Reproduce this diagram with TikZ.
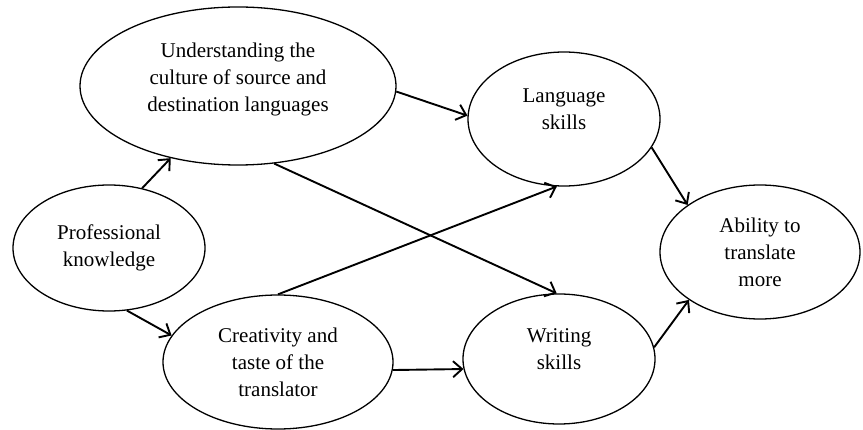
\documentclass[tikz,border=0pt]{standalone}
\usepackage{fontspec}
\setmainfont{Liberation Serif}
\usetikzlibrary{positioning,shapes.geometric,arrows.meta}

\begin{document}
\begin{tikzpicture}[x=1pt, y=-1pt,
  oval/.style={ellipse, draw=black, line width=1.3pt, inner sep=0pt, align=center, font=\fontsize{21}{27}\selectfont},
  arrow/.style={-{Straight Barb[length=9pt,width=16pt]}, line width=1.9pt}
]
  \useasboundingbox (0,0) rectangle (863,430);

  % Nodes
  \node[oval, minimum width=316pt, minimum height=158pt] (culture) at (238,86) {Understanding the\\culture of source and\\destination languages\\[-10pt]};
  \node[oval, minimum width=192pt, minimum height=126pt] (prof) at (109,248) {Professional\\knowledge};
  \node[oval, minimum width=230pt, minimum height=134pt] (creat) at (278,362) {Creativity and\\taste of the\\translator};
  \node[oval, minimum width=192pt, minimum height=134pt] (lang) at (564,119) {Language\\skills\\[-8pt]};
  \node[oval, minimum width=192pt, minimum height=130pt] (write) at (559,359) {Writing\\skills\\[-8pt]};
  \node[oval, minimum width=200pt, minimum height=134pt] (ability) at (760,252) {Ability to\\translate\\more};

  % Connections
  \draw[arrow] (prof.61) -- (culture.227);
  \draw[arrow] (prof.286) -- (creat.166);
  \draw[arrow] (culture.-2.5) -- (lang.178);
  \draw[arrow] (culture.-65.5) -- (write.92);
  \draw[arrow] (creat.90) -- (lang.264);
  \draw[arrow] (creat.-4) -- (write.186.5);
  \draw[arrow] (lang.-18.6) -- (ability.147);
  \draw[arrow] (write.7) -- (ability.214);

\end{tikzpicture}
\end{document}
